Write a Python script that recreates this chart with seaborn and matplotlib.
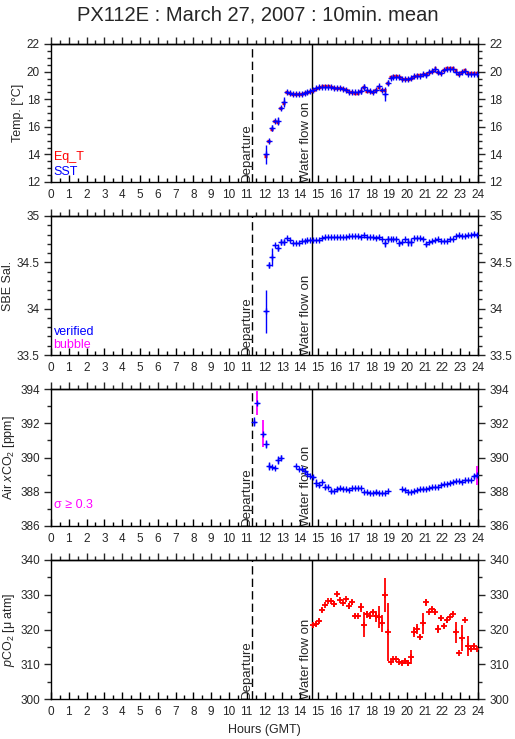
import numpy as np
import pandas as pd
import matplotlib
matplotlib.use("Agg")
import matplotlib.pyplot as plt
from matplotlib.ticker import MultipleLocator, FuncFormatter
from matplotlib.transforms import blended_transform_factory
import seaborn as sns

# ---------------- data (10-minute means) ----------------
t_start = 12.0833
sst = [14.0, 15.0, 15.9, 16.4, 16.4, 17.35, 17.8, 18.5, 18.45, 18.35,
       18.35, 18.35, 18.4, 18.45, 18.55, 18.6, 18.7, 18.8, 18.85, 18.9,
       18.9, 18.9, 18.85, 18.8, 18.8, 18.8, 18.75, 18.7, 18.55, 18.5,
       18.5, 18.5, 18.6, 18.9, 18.65, 18.6, 18.55, 18.7, 18.95, 18.7,
       18.4, 19.2, 19.55, 19.6, 19.6, 19.6, 19.5, 19.5, 19.5, 19.55,
       19.65, 19.7, 19.7, 19.85, 19.75, 19.95, 20.05, 20.2, 19.95, 19.9,
       20.15, 20.2, 20.2, 20.2, 20.0, 19.8, 19.95, 20.05, 19.85, 19.85,
       19.85, 19.85]
sst_sd = [0.7, 0.0, 0.2, 0.0, 0.3, 0.0, 0.35, 0.0, 0.0, 0.0,
          0.0, 0.0, 0.0, 0.0, 0.0, 0.0, 0.0, 0.0, 0.0, 0.0,
          0.0, 0.0, 0.0, 0.0, 0.0, 0.0, 0.0, 0.0, 0.0, 0.0,
          0.0, 0.0, 0.25, 0.2, 0.0, 0.0, 0.0, 0.0, 0.0, 0.0,
          0.5, 0.2, 0.0, 0.0, 0.0, 0.0, 0.0, 0.0, 0.0, 0.0,
          0.0, 0.0, 0.0, 0.0, 0.15, 0.0, 0.0, 0.0, 0.15, 0.0,
          0.0, 0.0, 0.0, 0.0, 0.0, 0.0, 0.0, 0.0, 0.0, 0.0,
          0.0, 0.0]
eq_t = [13.85, 15.0, 15.85, 16.4, 16.35, 17.35, 17.75, 18.5, 18.45, 18.35,
        18.35, 18.35, 18.4, 18.45, 18.55, 18.6, 18.7, 18.8, 18.9, 18.95,
        18.95, 18.95, 18.85, 18.8, 18.8, 18.8, 18.75, 18.7, 18.5, 18.5,
        18.45, 18.45, 18.6, 18.85, 18.6, 18.6, 18.55, 18.7, 18.9, 18.7,
        18.7, 19.2, 19.6, 19.65, 19.65, 19.6, 19.5, 19.5, 19.5, 19.55,
        19.7, 19.75, 19.75, 19.8, 19.8, 19.95, 20.05, 20.25, 19.95, 19.9,
        20.15, 20.25, 20.25, 20.25, 20.1, 19.8, 19.95, 20.1, 19.9, 19.9,
        19.9, 19.9]

sal = [33.97, 34.47, 34.56, 34.69, 34.66, 34.72, 34.72, 34.76, 34.74, 34.71,
       34.71, 34.71, 34.73, 34.73, 34.74, 34.74, 34.74, 34.74, 34.74, 34.76,
       34.77, 34.77, 34.77, 34.77, 34.77, 34.77, 34.77, 34.77, 34.78, 34.78,
       34.78, 34.78, 34.77, 34.79, 34.77, 34.77, 34.77, 34.76, 34.77, 34.75,
       34.71, 34.75, 34.75, 34.75, 34.75, 34.71, 34.72, 34.75, 34.72, 34.72,
       34.76, 34.76, 34.76, 34.75, 34.70, 34.72, 34.73, 34.74, 34.75, 34.73,
       34.73, 34.73, 34.75, 34.75, 34.78, 34.79, 34.78, 34.78, 34.79, 34.80,
       34.81, 34.80]
sal_sd = [0.23, 0.03, 0.1, 0.0, 0.04, 0.03, 0.03, 0.0, 0.0, 0.0,
          0.0, 0.0, 0.0, 0.0, 0.0, 0.0, 0.0, 0.0, 0.0, 0.0,
          0.0, 0.0, 0.0, 0.0, 0.0, 0.0, 0.0, 0.0, 0.0, 0.0,
          0.0, 0.0, 0.0, 0.0, 0.0, 0.0, 0.0, 0.0, 0.0, 0.0,
          0.045, 0.03, 0.0, 0.0, 0.0, 0.03, 0.0, 0.0, 0.04, 0.04,
          0.0, 0.0, 0.0, 0.0, 0.02, 0.0, 0.0, 0.0, 0.0, 0.0,
          0.0, 0.0, 0.0, 0.0, 0.0, 0.0, 0.0, 0.0, 0.0, 0.0,
          0.0, 0.0]

air_start = 11.4167
air = [392.1, 393.2, np.nan, 391.4, 390.8, 389.5, 389.45, 389.4, 389.85, 390.0,
       np.nan, np.nan, np.nan, np.nan, 389.5, 389.35, 389.3, 389.2, 389.05, 388.9,
       388.85, 388.5, 388.4, 388.55, 388.3, 388.25, 388.05, 388.05, 388.15, 388.2,
       388.15, 388.15, 388.1, 388.2, 388.2, 388.2, 388.2, 388.0, 388.0, 387.95,
       387.95, 388.0, 387.9, 387.9, 387.95, 388.05, np.nan, np.nan, np.nan, np.nan,
       388.15, 388.1, 388.0, 388.0, 388.05, 388.1, 388.15, 388.15, 388.15, 388.2,
       388.25, 388.25, 388.3, 388.4, 388.45, 388.45, 388.5, 388.55, 388.65, 388.6,
       388.55, 388.7, 388.7, 388.7, 388.9, 388.95]
air_sd = [0.25, 0.7, 0.0, 0.8, 0.25, 0.25, 0.0, 0.0, 0.25, 0.15,
          0.0, 0.0, 0.0, 0.0, 0.0, 0.0, 0.0, 0.0, 0.0, 0.0,
          0.0, 0.25, 0.15, 0.0, 0.15, 0.0, 0.15, 0.0, 0.12, 0.0,
          0.0, 0.0, 0.0, 0.0, 0.0, 0.0, 0.0, 0.0, 0.0, 0.0,
          0.0, 0.12, 0.0, 0.0, 0.0, 0.0, 0.0, 0.0, 0.0, 0.0,
          0.0, 0.0, 0.0, 0.0, 0.0, 0.0, 0.0, 0.12, 0.0, 0.0,
          0.0, 0.0, 0.0, 0.0, 0.0, 0.0, 0.0, 0.0, 0.0, 0.0,
          0.0, 0.0, 0.0, 0.0, 0.15, 0.55]
air_flag = [0, 1, 0, 1, 0, 0, 0, 0, 0, 0,
            0, 0, 0, 0, 0, 0, 0, 0, 0, 0,
            0, 0, 0, 0, 0, 0, 0, 0, 0, 0,
            0, 0, 0, 0, 0, 0, 0, 0, 0, 0,
            0, 0, 0, 0, 0, 0, 0, 0, 0, 0,
            0, 0, 0, 0, 0, 0, 0, 0, 0, 0,
            0, 0, 0, 0, 0, 0, 0, 0, 0, 0,
            0, 0, 0, 0, 0, 1]

pco2_start = 14.75
pco2 = [321.3, 321.6, 322.4, 325.5, 327.0, 328.3, 328.3, 327.4, 330.2, 328.6,
        327.6, 328.8, 326.8, 327.8, 324.0, 324.0, 326.4, 321.4, 324.4, 324.0,
        325.0, 323.8, 323.6, 321.8, 329.9, 319.2, 310.6, 311.4, 311.4, 310.6,
        310.4, 310.8, 310.4, 312.2, 319.2, 320.1, 317.9, 321.8, 327.8, 325.1,
        325.8, 325.1, 320.1, 323.2, 321.0, 322.6, 323.5, 324.5, 319.2, 313.1,
        317.6, 322.7, 315.3, 314.3, 315.2, 314.3]
pco2_sd = [0.0, 0.5, 0.6, 0.6, 0.0, 0.0, 0.0, 0.8, 0.5, 0.0,
           0.0, 0.0, 0.8, 0.8, 0.6, 0.0, 1.3, 3.6, 1.0, 1.0,
           0.6, 1.5, 3.2, 2.4, 4.8, 8.3, 0.0, 0.0, 0.0, 0.0,
           0.6, 0.6, 0.8, 2.0, 1.5, 1.5, 0.6, 3.0, 1.0, 0.0,
           0.8, 0.8, 1.2, 0.8, 0.5, 0.8, 0.0, 0.4, 3.0, 0.0,
           3.8, 0.0, 2.9, 0.6, 0.5, 0.0]

departure_hr = 11.3
waterflow_hr = 14.66

# ---------------- style ----------------
sns.set_style("ticks")
plt.rcParams['font.family'] = ['Liberation Sans', 'DejaVu Sans']
plt.rcParams['mathtext.fontset'] = 'custom'
plt.rcParams['mathtext.rm'] = 'Liberation Sans'
plt.rcParams['mathtext.it'] = 'Liberation Sans:italic'
plt.rcParams['axes.linewidth'] = 1.0
plt.rcParams['axes.edgecolor'] = 'black'

BLUE = (0, 0, 1)
RED = (1, 0, 0)
MAG = (1, 0, 1)

W, H = 515, 739
fig = plt.figure(figsize=(W / 100, H / 100), dpi=100)
fig.patch.set_facecolor('white')

panels_px = [(44, 182), (216, 355), (389, 526), (560, 699)]
left_px, right_px = 51, 478
axes = []
for top, bot in panels_px:
    ax = fig.add_axes([left_px / W, 1 - bot / H, (right_px - left_px) / W, (bot - top) / H])
    axes.append(ax)

fmt = FuncFormatter(lambda v, p: f"{v:g}")


def frame(ax, ylim, major, minor, ylabel):
    ax.set_xlim(0, 24)
    ax.set_ylim(*ylim)
    ax.set_facecolor('white')
    for s in ax.spines.values():
        s.set_visible(True)
        s.set_color('black')
        s.set_linewidth(1.0)
    ax.xaxis.set_major_locator(MultipleLocator(1))
    ax.xaxis.set_minor_locator(MultipleLocator(0.5))
    ax.yaxis.set_major_locator(MultipleLocator(major))
    ax.yaxis.set_minor_locator(MultipleLocator(minor))
    ax.yaxis.set_major_formatter(fmt)
    ax.tick_params(axis='x', which='both', bottom=True, top=False, direction='in',
                   labelsize=8.5, pad=5, width=1, color='black')
    ax.tick_params(axis='x', which='major', length=5)
    ax.tick_params(axis='x', which='minor', length=3)
    # top ticks point outward
    sec = ax.secondary_xaxis('top')
    sec.xaxis.set_major_locator(MultipleLocator(1))
    sec.xaxis.set_minor_locator(MultipleLocator(0.5))
    sec.tick_params(axis='x', which='both', direction='out', labeltop=False, width=1)
    sec.tick_params(axis='x', which='major', length=5)
    sec.tick_params(axis='x', which='minor', length=3)
    sec.spines['top'].set_linewidth(1.0)
    ax.tick_params(axis='y', which='both', left=True, right=True, labelleft=True,
                   labelright=True, direction='out', labelsize=8.5, width=1, pad=3)
    ax.tick_params(axis='y', which='major', length=5)
    ax.tick_params(axis='y', which='minor', length=3)
    ax.set_ylabel(ylabel, fontsize=9, labelpad=2)
    ax.set_xlabel('')
    ax.grid(False)
    # guide lines
    ax.axvline(departure_hr, color='black', lw=1, ls=(0, (6, 3)), zorder=1)
    ax.axvline(waterflow_hr, color='black', lw=1, zorder=1)
    tr = blended_transform_factory(ax.transData, ax.transAxes)
    ax.text(departure_hr + 0.02, 0.0, 'Departure', rotation=90, ha='right', va='bottom',
            fontsize=9.5, transform=tr, zorder=2)
    ax.text(waterflow_hr + 0.02, 0.0, 'Water flow on', rotation=90, ha='right', va='bottom',
            fontsize=9.5, transform=tr, zorder=2)


def crosses(ax, x, y, sd, color, vcolor=None, lw=1.0):
    df = pd.DataFrame({'hour': x, 'val': y})
    ax.errorbar(x, y, xerr=1 / 12, fmt='none', ecolor=color, elinewidth=lw, capsize=0, zorder=3)
    vc = color if vcolor is None else vcolor
    ax.errorbar(x, y, yerr=sd, fmt='none', ecolor=vc, elinewidth=lw, capsize=0, zorder=4)
    sns.scatterplot(data=df, x='hour', y='val', marker='+', s=18, color=color,
                    linewidth=lw, ax=ax, zorder=5, legend=False)


# panel 1: temperature
ax = axes[0]
th = t_start + np.arange(len(sst)) / 6
ax.errorbar(th, eq_t, xerr=1 / 12, fmt='none', ecolor=RED, elinewidth=2.4, capsize=0, zorder=3)
crosses(ax, th, sst, sst_sd, BLUE)
frame(ax, (12, 22), 2, 0.5, 'Temp. [°C]')
ax.text(0.006, 0.18, 'Eq_T', color=RED, transform=ax.transAxes, fontsize=9, va='center')
ax.text(0.006, 0.075, 'SST', color=BLUE, transform=ax.transAxes, fontsize=9, va='center')

# panel 2: salinity
ax = axes[1]
sh = t_start + np.arange(len(sal)) / 6
crosses(ax, sh, sal, sal_sd, BLUE)
frame(ax, (33.5, 35), 0.5, 0.1, 'SBE Sal.')
ax.text(0.006, 0.165, 'verified', color=BLUE, transform=ax.transAxes, fontsize=9, va='center')
ax.text(0.006, 0.07, 'bubble', color=MAG, transform=ax.transAxes, fontsize=9, va='center')

# panel 3: air xCO2
ax = axes[2]
ah = air_start + np.arange(len(air)) / 6
air_a = np.array(air, dtype=float)
sd_a = np.array(air_sd, dtype=float)
flag = np.array(air_flag, dtype=bool)
ok = ~np.isnan(air_a)
ax.errorbar(ah[ok], air_a[ok], xerr=1 / 12, fmt='none', ecolor=BLUE, elinewidth=1.0, capsize=0, zorder=3)
ax.errorbar(ah[ok & ~flag], air_a[ok & ~flag], yerr=sd_a[ok & ~flag], fmt='none', ecolor=BLUE,
            elinewidth=1.0, capsize=0, zorder=4)
ax.errorbar(ah[ok & flag], air_a[ok & flag], yerr=sd_a[ok & flag], fmt='none', ecolor=MAG,
            elinewidth=1.3, capsize=0, zorder=4)
sns.scatterplot(x=ah[ok], y=air_a[ok], marker='+', s=18, color=BLUE, linewidth=1.0, ax=ax,
                zorder=5, legend=False)
frame(ax, (386, 394), 2, 1, 'Air $x$CO$_2$ [ppm]')
ax.text(0.006, 0.155, 'σ ≥ 0.3', color=MAG, transform=ax.transAxes, fontsize=9, va='center')

# panel 4: pCO2
ax = axes[3]
ph = pco2_start + np.arange(len(pco2)) / 6
crosses(ax, ph, pco2, pco2_sd, RED, lw=1.3)
frame(ax, (300, 340), 10, 5, '$p$CO$_2$ [μ atm]')
ax.set_xlabel('Hours (GMT)', fontsize=9, labelpad=4)

fig.text(0.5, 1 - 15 / H, 'PX112E : March 27, 2007 : 10min. mean', ha='center', va='center',
         fontsize=14.5)

fig.savefig('out.png', dpi=100, facecolor='white')
